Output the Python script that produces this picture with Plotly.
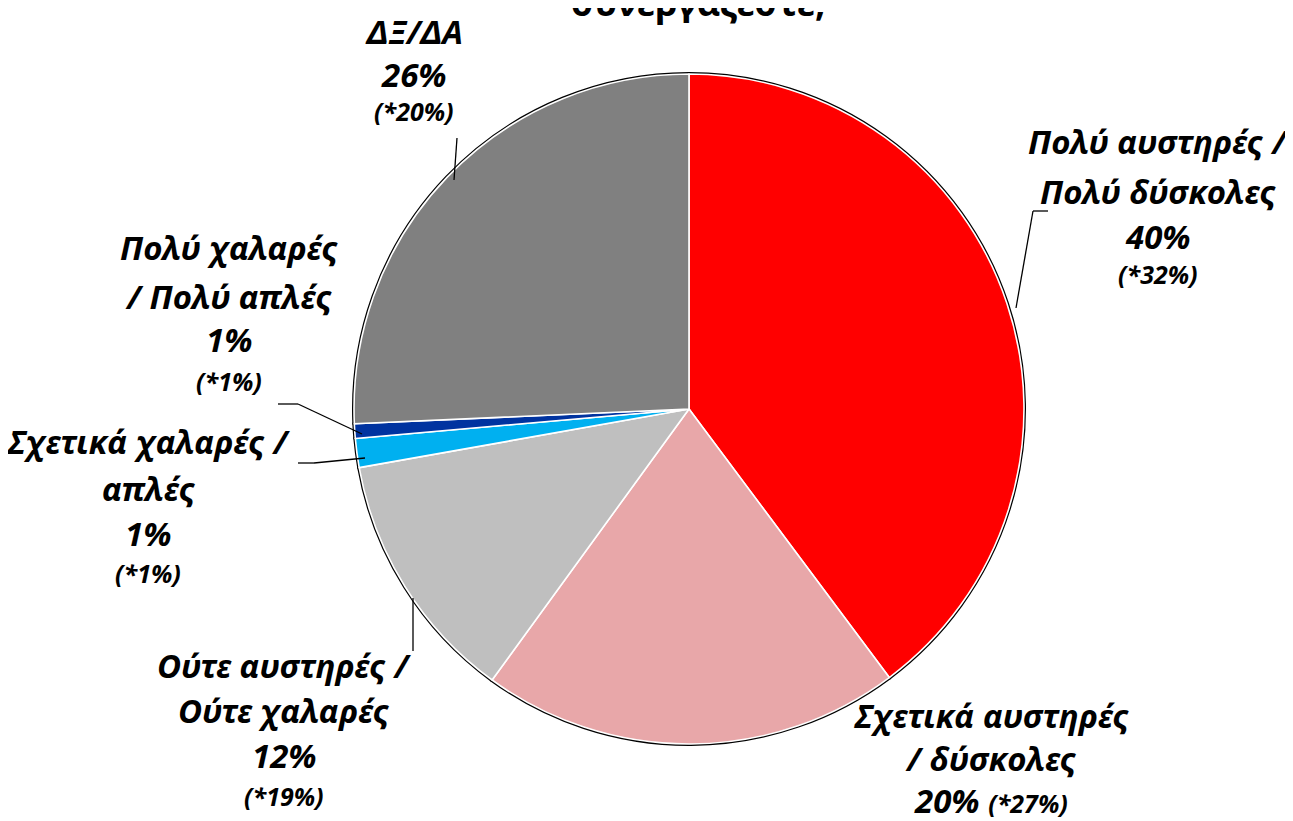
import plotly.graph_objects as go

W, H = 1293, 821

labels = [
    "Πολύ αυστηρές /<br>Πολύ δύσκολες",
    "Σχετικά αυστηρές<br>/ δύσκολες",
    "Ούτε αυστηρές /<br>Ούτε χαλαρές",
    "Σχετικά χαλαρές /<br>απλές",
    "Πολύ χαλαρές<br>/ Πολύ απλές",
    "ΔΞ/ΔΑ",
]
values = [39.8, 20.2, 12.2, 1.4, 0.7, 25.7]
shown_pct = ["40%", "20%", "12%", "1%", "1%", "26%"]
prev_pct = ["(*32%)", "(*27%)", "(*19%)", "(*1%)", "(*1%)", "(*20%)"]
colors = ["#FF0000", "#E8A7A9", "#BFBFBF", "#00B0F0", "#0033A0", "#808080"]
title_tail = "συνεργάζεστε;"

# label block: x centre and y centre of each text line (pixels)
label_x = [1150, 983, 276, 140, 221, 406]
label_lines_y = [
    [133, 183, 228, 266],
    [707, 750, 792],
    [657, 702, 747, 788],
    [433, 480, 525, 565],
    [240, 288, 331, 373],
    [23, 66, 103],
]
leaders = [
    [(1008, 300), (1025, 203), (1040, 203)],
    None,
    [(405, 590), (405, 643)],
    [(357, 450), (306, 455), (290, 455)],
    [(354, 426), (290, 396), (270, 396)],
    [(446, 172), (449, 130)],
]


def px(x, y):
    return x / W, 1 - y / H


# plotly draws the pie a few px right/down of the domain centre
cx, cy, r = 681, 401, 335
x0, y1 = px(cx - r, cy - r)
x1, y0 = px(cx + r, cy + r)

fig = go.Figure()
# black outline under, white separators on top
for lw, lc in [(4, "#000000"), (1.6, "#FFFFFF")]:
    fig.add_trace(
        go.Pie(
            labels=[l.replace("<br>", " ") for l in labels],
            values=values,
            sort=False,
            direction="clockwise",
            rotation=0,
            marker=dict(colors=colors, line=dict(color=lc, width=lw)),
            textinfo="none",
            hoverinfo="label+percent",
            showlegend=False,
            domain=dict(x=[x0, x1], y=[y0, y1]),
        )
    )

big = dict(family="Noto Sans, DejaVu Sans", size=33, color="black")
small = dict(family="Noto Sans, DejaVu Sans", size=25, color="black")
for i, lab in enumerate(labels):
    lines = [(t, big) for t in lab.split("<br>")]
    if i == 1:
        lines.append((f"{shown_pct[i]} <span style='font-size:25px'>{prev_pct[i]}</span>", big))
    else:
        lines.append((shown_pct[i], big))
        lines.append((prev_pct[i], small))
    for (t, f), ly in zip(lines, label_lines_y[i]):
        ax, ay = px(label_x[i], ly)
        fig.add_annotation(
            x=ax, y=ay, xref="paper", yref="paper", text=f"<b><i>{t}</i></b>",
            showarrow=False, xanchor="center", yanchor="middle", font=f,
        )
    if leaders[i]:
        pts = leaders[i]
        for (xa, ya), (xb, yb) in zip(pts[:-1], pts[1:]):
            pa, pb = px(xa, ya), px(xb, yb)
            fig.add_shape(
                type="line", xref="paper", yref="paper",
                x0=pa[0], y0=pa[1], x1=pb[0], y1=pb[1],
                line=dict(color="black", width=1.3),
            )

# only the bottom of the title's last line is visible in the source
tx, ty = px(690, -6)
fig.add_annotation(
    x=tx, y=ty, xref="paper", yref="paper", text=f"<b>{title_tail}</b>",
    showarrow=False, xanchor="center", yanchor="middle",
    font=dict(family="Noto Sans, DejaVu Sans", size=36, color="black"),
)

fig.update_layout(
    width=W, height=H,
    margin=dict(l=0, r=0, t=0, b=0),
    paper_bgcolor="white",
    plot_bgcolor="white",
)
fig.write_html("out.html")
